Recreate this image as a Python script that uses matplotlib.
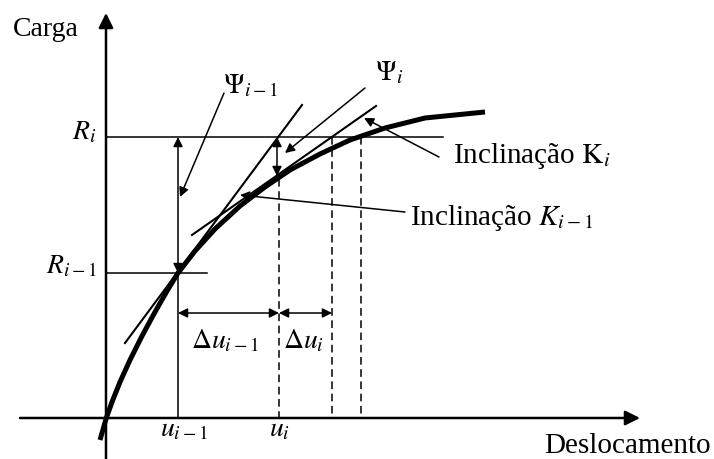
import matplotlib
matplotlib.use("Agg")
import matplotlib.pyplot as plt

plt.rcParams['font.family'] = ['Liberation Serif', 'DejaVu Serif']
plt.rcParams['mathtext.fontset'] = 'stix'

# drawing units: x to the right, y downward (sheet coordinates)
x0, y0 = 106, 418                 # origin of the load/displacement axes

# load-displacement curve
curve_u = [100, 106, 112, 120, 130, 142, 155, 167, 178, 195, 215, 240, 265, 290, 320, 350, 385, 425, 485]
curve_p = [440, 419, 402, 382, 360, 336, 312, 291, 273, 251, 229, 206, 187, 170, 154, 140, 128, 118, 112]

# load levels and displacements
R_prev, R_i = 273, 137
u_prev, u_i, u_next, u_cross = 178, 279, 332, 361
p_at_ui = 176
dim_y = 313

# tangent lines (slopes K_{i-1} and K_i)
tan_prev = ([125, 302], [343, 105])
tan_i = ([192, 376], [235, 106])

fig = plt.figure(figsize=(7.14, 4.59), dpi=100)
ax = fig.add_axes([0, 0, 1, 1])
ax.set_xlim(0, 714)
ax.set_ylim(459, 0)
ax.axis('off')

k = 'black'

# axes with arrows
ax.annotate('', xy=(x0, 13), xytext=(x0, 459),
            arrowprops=dict(arrowstyle='-|>', color=k, lw=1.8, mutation_scale=22, shrinkA=0, shrinkB=0))
ax.annotate('', xy=(640, y0), xytext=(20, y0),
            arrowprops=dict(arrowstyle='-|>', color=k, lw=1.8, mutation_scale=22, shrinkA=0, shrinkB=0))

# curve
ax.plot(curve_u, curve_p, color=k, lw=3.6, solid_capstyle='butt', solid_joinstyle='round')

# tangents
ax.plot(*tan_prev, color=k, lw=1.5)
ax.plot(*tan_i, color=k, lw=1.5)

# load levels
ax.plot([x0, 443], [R_i, R_i], color=k, lw=1.1)
ax.plot([x0, 207], [R_prev, R_prev], color=k, lw=1.1)

# verticals
ax.plot([u_prev, u_prev], [R_prev, y0], color=k, lw=1.1)
ax.plot([u_i, u_i], [p_at_ui + 3, y0], color=k, lw=1.1, ls=(0, (5, 3)))
ax.plot([u_next, u_next], [R_i, y0], color=k, lw=1.1, ls=(0, (5, 3)))
ax.plot([u_cross, u_cross], [R_i, y0], color=k, lw=1.1, ls=(0, (5, 3)))

dbl = dict(arrowstyle='<|-|>', color=k, lw=1.1, mutation_scale=14, shrinkA=0, shrinkB=0)
one = dict(arrowstyle='-|>', color=k, lw=1.1, mutation_scale=14, shrinkA=0, shrinkB=0)

# residual force arrows
ax.annotate('', xy=(u_prev, R_i), xytext=(u_prev, R_prev), arrowprops=dbl)
ax.annotate('', xy=(u_i - 2, R_i), xytext=(u_i - 2, p_at_ui), arrowprops=dbl)

# displacement increments
ax.annotate('', xy=(u_prev, dim_y), xytext=(u_i, dim_y), arrowprops=dbl)
ax.annotate('', xy=(u_i, dim_y), xytext=(u_next, dim_y), arrowprops=dbl)

# leader lines
ax.annotate('', xy=(180, 197), xytext=(224, 93), arrowprops=one)
ax.annotate('', xy=(285, 153), xytext=(365, 88), arrowprops=one)
ax.annotate('', xy=(364, 118), xytext=(439, 157), arrowprops=one)
ax.annotate('', xy=(240, 195), xytext=(405, 212), arrowprops=one)

fs = 20
ft = 21
ax.text(13, 36, 'Carga', fontsize=fs, va='baseline', ha='left')
ax.text(711, 453, 'Deslocamento', fontsize=ft, va='baseline', ha='right')
ax.text(96, 139, r'$R_i$', fontsize=fs, va='baseline', ha='right')
ax.text(97, 273, r'$R_{i-1}$', fontsize=fs, va='baseline', ha='right')
ax.text(184, 436, r'$u_{i-1}$', fontsize=fs, va='baseline', ha='center')
ax.text(280, 436, r'$u_i$', fontsize=fs, va='baseline', ha='center')
ax.text(225, 348, r'$\Delta u_{i-1}$', fontsize=fs, va='baseline', ha='center')
ax.text(304, 348, r'$\Delta u_i$', fontsize=fs, va='baseline', ha='center')
ax.text(223, 93, r'$\Psi_{i-1}$', fontsize=fs, va='baseline', ha='left')
ax.text(375, 80, r'$\Psi_i$', fontsize=fs, va='baseline', ha='left')
ax.text(453, 163, r'Inclinação $\mathrm{K}_i$', fontsize=ft, va='baseline', ha='left')
ax.text(410, 225, r'Inclinação $K_{i-1}$', fontsize=ft, va='baseline', ha='left')

fig.savefig('out.png', dpi=100, facecolor='white')
